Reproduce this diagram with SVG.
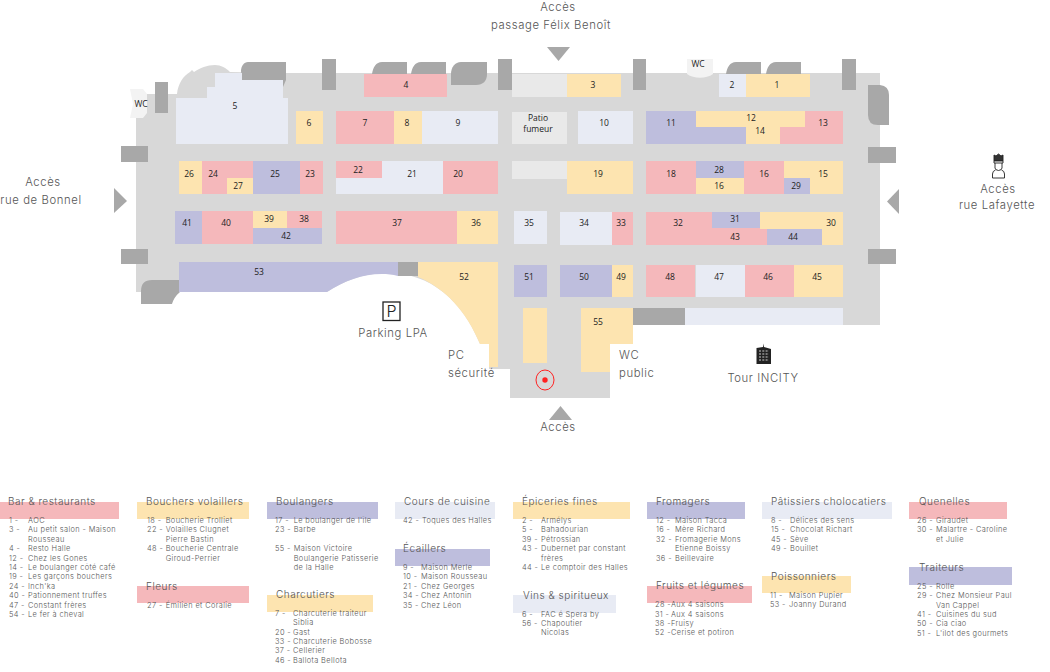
<svg xmlns="http://www.w3.org/2000/svg" width="1050" height="672" viewBox="0 0 1050 672">
<style>
text{font-family:"Inter","Liberation Sans",sans-serif;font-weight:300;fill:#555}
.n{font-family:"Open Sans","Liberation Sans",sans-serif;font-weight:400;font-size:8.5px;fill:#222;text-anchor:middle;letter-spacing:0}
.m{font-size:11.300px;fill:#555;letter-spacing:.6px}
.c{text-anchor:middle}
.h{font-size:10px;fill:#444;letter-spacing:.5px}
.l{font-size:7.400px;fill:#666;letter-spacing:.38px}
.p{fill:#f5b8bb}.y{fill:#fde4b0}.v{fill:#bebedd}.w{fill:#e8ebf4}.g{fill:#a8a8a8}.e{fill:#e9e9e9}
</style>
<rect width="1050" height="672" fill="#fff"/>
<g id="plan">
<path id="floor" fill="#d8d8d8" d="M136 94H177C178 84 183 76 190 72L192 70 194 72C200 68 207 65 215 65 221 65 226 68 230 72L283 73H880V325H633V344H610V398H510V369H489V344H480C462 300 430 273 388 273 365 273 345 280 327 292H136Z"/>
<path fill="#f3f3f3" d="M130 89H143L147 94V113L143 118H130L133 104Z"/>
<path fill="#f3f3f3" d="M687 59H713V74C706 79 694 79 687 74Z"/>
<g class="g">
<rect x="155" y="82" width="13" height="31"/>
<rect x="121" y="146" width="27" height="16"/>
<rect x="121" y="249" width="27" height="15"/>
<rect x="322" y="59" width="14" height="31"/>
<rect x="498" y="59" width="14" height="31"/>
<rect x="633" y="59" width="13" height="31"/>
<rect x="842" y="59" width="14" height="31"/>
<rect x="868" y="147" width="28" height="16"/>
<rect x="868" y="249" width="28" height="15"/>
<rect x="398" y="262" width="20" height="14"/>
<rect x="633" y="308" width="52" height="17"/>
<path d="M248 62H286V80L283 87 242 80 241 71C241 66 244 62 248 62Z"/>
<path d="M372 74C373 67 376 62 382 62H407V74Z"/>
<path d="M411 74C412 67 415 62 421 62H446V74Z"/>
<path d="M451 85V74C451 67 455 62 461 62H487V74C487 81 483 85 476 85Z"/>
<path d="M726 74C727 67 730 62 736 62H761V74Z"/>
<path d="M766 74C767 67 770 62 776 62H801V74Z"/>
<path d="M868 85H880Q889 86 889 95V125H878Q868 125 868 115Z"/>
<path d="M141 304V291Q141 280 152 280H187V292H180Q174 297 172 304Z"/>
</g>
<rect class="e" x="512" y="74" width="55" height="23"/>
<rect class="e" x="512" y="161" width="55" height="18"/>
<rect class="w" x="685" y="308" width="158" height="17"/>
<rect class="y" x="523" y="308" width="24" height="55"/>
<ellipse cx="545" cy="380" rx="9" ry="10" fill="none" stroke="#f22" stroke-width="1"/>
<circle cx="545" cy="380" r="2.700" fill="#f22"/>
</g>
<g id="stands">
<g id="s4"><rect class="p" x="364" y="74" width="83" height="23"/><text class="n" x="406" y="88">4</text></g>
<g id="s5"><path class="w" d="M176 98H207V87H215V73H242V80H283V98H288V144H176Z"/><text class="n" x="235" y="109">5</text></g>
<g id="s6"><rect class="y" x="296" y="111" width="27" height="33"/><text class="n" x="309" y="126">6</text></g>
<g id="s7"><rect class="p" x="336" y="111" width="58" height="33"/><text class="n" x="365" y="126">7</text></g>
<g id="s8"><rect class="y" x="394" y="111" width="28" height="33"/><text class="n" x="407" y="126">8</text></g>
<g id="s9"><rect class="w" x="422" y="111" width="76" height="33"/><text class="n" x="458" y="126">9</text></g>
<g id="s26"><rect class="y" x="179" y="161" width="23" height="33"/><text class="n" x="189" y="177">26</text></g>
<g id="s24"><rect class="p" x="202" y="161" width="51" height="33"/><text class="n" x="213" y="177">24</text></g>
<g id="s27"><rect class="y" x="227" y="178" width="26" height="16"/><text class="n" x="238" y="189">27</text></g>
<g id="s25"><rect class="v" x="253" y="161" width="47" height="33"/><text class="n" x="275" y="177">25</text></g>
<g id="s23"><rect class="p" x="300" y="161" width="23" height="33"/><text class="n" x="310" y="177">23</text></g>
<g id="s21"><rect class="w" x="336" y="161" width="107" height="33"/><text class="n" x="412" y="177">21</text></g>
<g id="s22"><rect class="p" x="336" y="161" width="46" height="17"/><text class="n" x="358" y="173">22</text></g>
<g id="s20"><rect class="p" x="443" y="161" width="55" height="33"/><text class="n" x="458" y="177">20</text></g>
<g id="s41"><rect class="v" x="175" y="211" width="27" height="33"/><text class="n" x="187" y="226">41</text></g>
<g id="s40"><rect class="p" x="202" y="211" width="51" height="33"/><text class="n" x="226" y="226">40</text></g>
<g id="s39"><rect class="y" x="253" y="211" width="34" height="17"/><text class="n" x="269" y="222">39</text></g>
<g id="s38"><rect class="p" x="287" y="211" width="35" height="17"/><text class="n" x="304" y="222">38</text></g>
<g id="s42"><rect class="v" x="253" y="228" width="69" height="16"/><text class="n" x="286" y="239">42</text></g>
<g id="s37"><rect class="p" x="336" y="211" width="121" height="33"/><text class="n" x="397" y="226">37</text></g>
<g id="s36"><rect class="y" x="457" y="211" width="41" height="33"/><text class="n" x="476" y="226">36</text></g>
<g id="s53"><path class="v" d="M179 262H398V276C375 270 348 278 327 292H179Z"/><text class="n" x="259" y="275">53</text></g>
<g id="s52"><path class="y" d="M418 262H498V367H489V344H480C466 311 446 289 418 277Z"/><text class="n" x="464" y="280">52</text></g>
<g id="s3"><rect class="y" x="567" y="74" width="54" height="23"/><text class="n" x="593" y="88">3</text></g>
<g id="s2"><rect class="w" x="719" y="74" width="27" height="23"/><text class="n" x="732" y="88">2</text></g>
<g id="s1"><rect class="y" x="746" y="74" width="64" height="23"/><text class="n" x="777" y="88">1</text></g>
<g id="patio"><rect class="e" x="512" y="112" width="55" height="32"/><text class="n" x="538" y="121">Patio</text><text class="n" x="538" y="132">fumeur</text></g>
<g id="s10"><rect class="w" x="578" y="111" width="55" height="33"/><text class="n" x="604" y="126">10</text></g>
<g id="s11"><rect class="v" x="646" y="111" width="100" height="33"/><text class="n" x="671" y="126">11</text></g>
<g id="s13"><path class="p" d="M805 111H843V144H780V127H805Z"/><text class="n" x="823" y="126">13</text></g>
<g id="s12"><rect class="y" x="696" y="111" width="109" height="16"/><text class="n" x="751" y="121">12</text></g>
<g id="s14"><rect class="y" x="746" y="127" width="34" height="17"/><text class="n" x="760" y="134">14</text></g>
<g id="s19"><rect class="y" x="567" y="161" width="66" height="33"/><text class="n" x="598" y="177">19</text></g>
<g id="s18"><rect class="p" x="646" y="161" width="50" height="33"/><text class="n" x="671" y="177">18</text></g>
<g id="s28"><rect class="v" x="696" y="161" width="48" height="17"/><text class="n" x="719" y="173">28</text></g>
<g id="s16b"><rect class="y" x="696" y="178" width="48" height="16"/><text class="n" x="719" y="189">16</text></g>
<g id="s16"><rect class="p" x="744" y="161" width="40" height="33"/><text class="n" x="764" y="177">16</text></g>
<g id="s15"><rect class="y" x="784" y="161" width="59" height="33"/><text class="n" x="823" y="177">15</text></g>
<g id="s29"><rect class="v" x="784" y="178" width="26" height="16"/><text class="n" x="796" y="189">29</text></g>
<g id="s35"><rect class="w" x="514" y="211" width="33" height="33"/><text class="n" x="529" y="226">35</text></g>
<g id="s34"><rect class="w" x="560" y="212" width="52" height="33"/><text class="n" x="584" y="226">34</text></g>
<g id="s33"><rect class="p" x="612" y="212" width="21" height="33"/><text class="n" x="621" y="226">33</text></g>
<g id="s32"><rect class="p" x="646" y="212" width="66" height="33"/><text class="n" x="678" y="226">32</text></g>
<g id="s43"><rect class="p" x="712" y="228" width="55" height="17"/><text class="n" x="735" y="240">43</text></g>
<g id="s31"><rect class="v" x="712" y="212" width="48" height="16"/><text class="n" x="735" y="222">31</text></g>
<g id="s30"><path class="y" d="M760 212H843V245H822V229H760Z"/><text class="n" x="831" y="226">30</text></g>
<g id="s44"><rect class="v" x="767" y="229" width="55" height="16"/><text class="n" x="793" y="240">44</text></g>
<g id="s51"><rect class="v" x="514" y="265" width="33" height="32"/><text class="n" x="529" y="280">51</text></g>
<g id="s50"><rect class="v" x="560" y="265" width="52" height="32"/><text class="n" x="584" y="280">50</text></g>
<g id="s49"><rect class="y" x="612" y="265" width="21" height="32"/><text class="n" x="621" y="280">49</text></g>
<g id="s48"><rect class="p" x="646" y="265" width="49" height="32"/><text class="n" x="670" y="280">48</text></g>
<g id="s47"><rect class="w" x="696" y="265" width="49" height="32"/><text class="n" x="719" y="280">47</text></g>
<g id="s46"><rect class="p" x="745" y="265" width="49" height="32"/><text class="n" x="768" y="280">46</text></g>
<g id="s45"><rect class="y" x="794" y="265" width="49" height="32"/><text class="n" x="817" y="280">45</text></g>
<g id="s55"><path class="y" d="M581 308H633V344H610V372H581Z"/><text class="n" x="598" y="325">55</text></g>
<g id="wc1"><text class="n" x="141" y="107">WC</text></g>
<g id="wc2"><text class="n" x="698" y="67">WC</text></g>
</g>
<g id="access">
<g class="g">
<path d="M547 47H570L558.500 61Z"/>
<path d="M549 420H572L560.500 406Z"/>
<path d="M114 188 127 201 114 213Z"/>
<path d="M899 189 887 201.500 899 214Z"/>
</g>
<text class="m c" x="558" y="11">Accès</text>
<text class="m c" x="551" y="29">passage Félix Benoît</text>
<text class="m c" x="43" y="186">Accès</text>
<text class="m c" x="41" y="204">rue de Bonnel</text>
<text class="m c" x="998" y="193">Accès</text>
<text class="m c" x="997" y="209">rue Lafayette</text>
<text class="m c" x="558" y="431">Accès</text>
<text class="m c" x="393" y="337">Parking LPA</text>
<text class="m" x="448" y="359">PC</text>
<text class="m" x="448" y="377">sécurité</text>
<text class="m" x="619" y="359">WC</text>
<text class="m" x="619" y="377">public</text>
<text class="m c" x="763" y="382">Tour INCITY</text>
<g id="parking-icon"><rect x="383" y="302" width="17" height="18.500" fill="#fff" stroke="#222" stroke-width="1.300"/><text x="391.500" y="317" font-size="16" text-anchor="middle" style="fill:#222">P</text></g>
<g id="tower-icon"><path d="M756.500 348 763 347V343.500L764 347 771 349V364H756.500Z" fill="#222"/><path d="M759 351h10M759 354h10M759 357h10M759 360h10" stroke="#ccc" stroke-width="1.200" stroke-dasharray="2 1.300"/></g>
<g id="chef-icon" fill="none" stroke="#222" stroke-width=".9"><path d="M994 161V155L996 156 998.500 154 1001 156 1003 155V161Z" fill="#333"/><path d="M994 161H1003V163H994Z" fill="#fff"/><path d="M995 163V168Q995 170 998.500 170.500 1002 170 1002 168V163"/><path d="M992.500 178V174Q992.500 171 995.500 170M1001.500 170Q1004.500 171 1004.500 174V178H992.500"/></g>
</g>
<g id="legend">
<g class="p"><rect x="0" y="502" width="119" height="17"/><rect x="137" y="586" width="112" height="17"/><rect x="647" y="586" width="105" height="17"/><rect x="909" y="502" width="98" height="17"/></g>
<g class="y"><rect x="137" y="502" width="112" height="17"/><rect x="267" y="595" width="106" height="17"/><rect x="513" y="502" width="117" height="17"/><rect x="762" y="576" width="89" height="17"/></g>
<g class="v"><rect x="267" y="502" width="111" height="17"/><rect x="395" y="549" width="95" height="17"/><rect x="647" y="502" width="98" height="17"/><rect x="909" y="567" width="103" height="18"/></g>
<g class="w"><rect x="395" y="502" width="100" height="17"/><rect x="513" y="595" width="103" height="18"/><rect x="762" y="502" width="130" height="17"/></g>
<g id="headings" class="h">
<text x="8" y="505">Bar &amp; restaurants</text>
<text x="146" y="505">Bouchers volaillers</text>
<text x="146" y="590">Fleurs</text>
<text x="276" y="505">Boulangers</text>
<text x="276" y="598">Charcutiers</text>
<text x="404" y="505">Cours de cuisine</text>
<text x="403" y="552">Écaillers</text>
<text x="522" y="505">Épiceries fines</text>
<text x="523" y="599">Vins &amp; spiritueux</text>
<text x="656" y="505">Fromagers</text>
<text x="656" y="589">Fruits et légumes</text>
<text x="771" y="505">Pâtissiers cholocatiers</text>
<text x="771" y="580">Poissonniers</text>
<text x="919" y="505">Quenelles</text>
<text x="919" y="571">Traiteurs</text>
</g>
<g id="items" class="l">
<text x="9" y="522.500">1 -</text><text x="28" y="522.500">AOC</text>
<text x="9" y="532">3 -</text><text x="28" y="532">Au petit salon - Maison</text>
<text x="28" y="541.500">Rousseau</text>
<text x="9" y="551">4 -</text><text x="28" y="551">Resto Halle</text>
<text x="9" y="560.500">12 -</text><text x="28" y="560.500">Chez les Gones</text>
<text x="9" y="570">14 -</text><text x="28" y="570">Le boulanger côté café</text>
<text x="9" y="579">19 -</text><text x="28" y="579">Les garçons bouchers</text>
<text x="9" y="588.500">24 -</text><text x="28" y="588.500">Inch'ka</text>
<text x="9" y="598">40 -</text><text x="28" y="598">Pationnement truffes</text>
<text x="9" y="607.500">47 -</text><text x="28" y="607.500">Constant frères</text>
<text x="9" y="616.500">54 -</text><text x="28" y="616.500">Le fer à cheval</text>

<text x="147" y="522.500">18 -</text><text x="165.700" y="522.500">Boucherie Trolliet</text>
<text x="147" y="532">22 -</text><text x="165.700" y="532">Volailles Clugnet</text>
<text x="165.700" y="541.500">Pierre Bastin</text>
<text x="147" y="551">48 -</text><text x="165.700" y="551">Boucherie Centrale</text>
<text x="165.700" y="560.500">Giroud-Perrier</text>
<text x="147" y="607.500">27 -</text><text x="165.700" y="607.500">Émilien et Coralie</text>

<text x="275" y="522.500">17 -</text><text x="293.700" y="522.500">Le boulanger de l'île</text>
<text x="275" y="532">23 -</text><text x="293.700" y="532">Barbe</text>
<text x="275" y="551">55 -</text><text x="293.700" y="551">Maison Victoire</text>
<text x="293.700" y="560.500">Boulangerie Patisserie</text>
<text x="293.700" y="570">de la Halle</text>
<text x="275" y="615.500">7 -</text><text x="293" y="615.500">Charcuterie traiteur</text>
<text x="293" y="625">Siblia</text>
<text x="275" y="634.500">20 -</text><text x="293" y="634.500">Gast</text>
<text x="275" y="644">33 -</text><text x="293" y="644">Charcuterie Bobosse</text>
<text x="275" y="653">37 -</text><text x="293" y="653">Cellerier</text>
<text x="275" y="662.500">46 -</text><text x="293" y="662.500">Ballota Bellota</text>

<text x="403" y="522.500">42 -</text><text x="422" y="522.500">Toques des Halles</text>
<text x="403" y="569.500">9 -</text><text x="421" y="569.500">Maison Merle</text>
<text x="403" y="579">10 -</text><text x="421" y="579">Maison Rousseau</text>
<text x="403" y="588.500">21 -</text><text x="421" y="588.500">Chez Georges</text>
<text x="403" y="598">34 -</text><text x="421" y="598">Chez Antonin</text>
<text x="403" y="607.500">35 -</text><text x="421" y="607.500">Chez Léon</text>

<text x="522" y="522.500">2 -</text><text x="541" y="522.500">Armélys</text>
<text x="522" y="532">5 -</text><text x="541" y="532">Bahadourian</text>
<text x="522" y="541.500">39 -</text><text x="541" y="541.500">Pétrossian</text>
<text x="522" y="551">43 -</text><text x="541" y="551">Dubernet par constant</text>
<text x="541" y="560.500">frères</text>
<text x="522" y="570">44 -</text><text x="541" y="570">Le comptoir des Halles</text>
<text x="522" y="616.500">6 -</text><text x="541" y="616.500">FAC é Spera by</text>
<text x="522" y="626">56 -</text><text x="541" y="626">Chapoutier</text>
<text x="541" y="635">Nicolas</text>

<text x="656" y="522.500">12 -</text><text x="675" y="522.500">Maison Tacca</text>
<text x="656" y="532">16 -</text><text x="675" y="532">Mère Richard</text>
<text x="656" y="541.500">32 -</text><text x="675" y="541.500">Fromagerie Mons</text>
<text x="675" y="551">Etienne Boissy</text>
<text x="656" y="560.500">36 -</text><text x="675" y="560.500">Beillevaire</text>
<text x="655" y="607">28 -</text><text x="671" y="607">Aux 4 saisons</text>
<text x="655" y="616.500">31 -</text><text x="671" y="616.500">Aux 4 saisons</text>
<text x="655" y="626">38 -</text><text x="671" y="626">Fruisy</text>
<text x="655" y="635">52 -</text><text x="671" y="635">Cerise et potiron</text>

<text x="771" y="522.500">8 -</text><text x="790" y="522.500">Délices des sens</text>
<text x="771" y="532">15 -</text><text x="790" y="532">Chocolat Richart</text>
<text x="771" y="541.500">45 -</text><text x="790" y="541.500">Sève</text>
<text x="771" y="551">49 -</text><text x="790" y="551">Bouillet</text>
<text x="770" y="597.500">11 -</text><text x="789" y="597.500">Maison Pupier</text>
<text x="770" y="607">53 -</text><text x="789" y="607">Joanny Durand</text>

<text x="917" y="522.500">26 -</text><text x="936" y="522.500">Giraudet</text>
<text x="917" y="532">30 -</text><text x="936" y="532">Malartre - Caroline</text>
<text x="936" y="541.500">et Julie</text>
<text x="917" y="588.500">25 -</text><text x="936" y="588.500">Rolle</text>
<text x="917" y="598">29 -</text><text x="936" y="598">Chez Monsieur Paul</text>
<text x="936" y="607.500">Van Cappel</text>
<text x="917" y="617">41 -</text><text x="936" y="617">Cuisines du sud</text>
<text x="917" y="626">50 -</text><text x="936" y="626">Cia ciao</text>
<text x="917" y="635.500">51 -</text><text x="936" y="635.500">L'îlot des gourmets</text>
</g>
</g>
</svg>
